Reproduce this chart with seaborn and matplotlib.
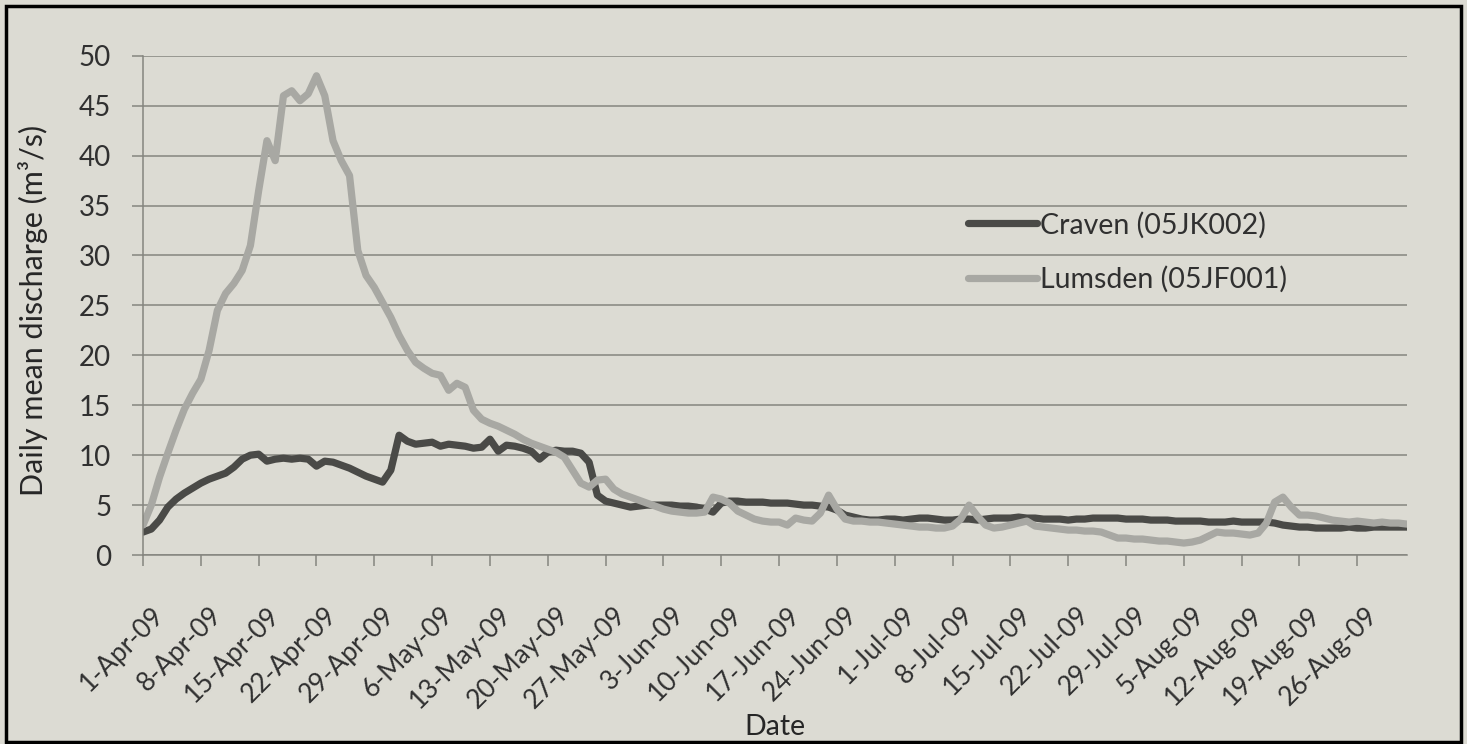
import pandas as pd
import matplotlib
matplotlib.use("Agg")
import matplotlib.pyplot as plt
import matplotlib.dates as mdates
import matplotlib.transforms as mtransforms
from matplotlib.patches import Rectangle
import seaborn as sns

# ── Data (daily mean discharge, m3/s) ─────────────────────────────────────
START_DATE = "2009-04-01"
STATIONS = ["Craven (05JK002)", "Lumsden (05JF001)"]

craven = [
    2.3, 2.6, 3.5, 4.8, 5.6, 6.2, 6.7, 7.2, 7.6, 7.9,
    8.2, 8.8, 9.6, 10.0, 10.1, 9.4, 9.6, 9.7, 9.6, 9.7,
    9.6, 8.9, 9.4, 9.3, 9.0, 8.7, 8.3, 7.9, 7.6, 7.3,
    8.5, 12.0, 11.4, 11.1, 11.2, 11.3, 10.9, 11.1, 11.0, 10.9,
    10.7, 10.8, 11.6, 10.4, 11.0, 10.9, 10.7, 10.4, 9.6, 10.3,
    10.5, 10.4, 10.4, 10.2, 9.3, 6.0, 5.4, 5.2, 5.0, 4.8,
    4.9, 5.0, 5.0, 5.0, 5.0, 4.9, 4.9, 4.8, 4.6, 4.3,
    5.2, 5.4, 5.4, 5.3, 5.3, 5.3, 5.2, 5.2, 5.2, 5.1,
    5.0, 5.0, 4.9, 4.8, 4.5, 4.0, 3.8, 3.6, 3.5, 3.5,
    3.6, 3.6, 3.5, 3.6, 3.7, 3.7, 3.6, 3.5, 3.5, 3.6,
    3.6, 3.5, 3.6, 3.7, 3.7, 3.7, 3.8, 3.7, 3.7, 3.6,
    3.6, 3.6, 3.5, 3.6, 3.6, 3.7, 3.7, 3.7, 3.7, 3.6,
    3.6, 3.6, 3.5, 3.5, 3.5, 3.4, 3.4, 3.4, 3.4, 3.3,
    3.3, 3.3, 3.4, 3.3, 3.3, 3.3, 3.3, 3.2, 3.0, 2.9,
    2.8, 2.8, 2.7, 2.7, 2.7, 2.7, 2.8, 2.7, 2.7, 2.8,
    2.8, 2.8, 2.8, 2.8,
]

lumsden = [
    3.0, 5.0, 7.8, 10.2, 12.5, 14.6, 16.2, 17.6, 20.5, 24.5,
    26.2, 27.2, 28.5, 31.0, 36.5, 41.5, 39.5, 46.0, 46.5, 45.5,
    46.2, 48.0, 46.0, 41.5, 39.5, 38.0, 30.5, 28.0, 26.8, 25.3,
    23.8, 22.0, 20.5, 19.3, 18.7, 18.2, 18.0, 16.5, 17.2, 16.8,
    14.5, 13.6, 13.2, 12.9, 12.5, 12.1, 11.6, 11.2, 10.9, 10.6,
    10.3, 9.8, 8.5, 7.2, 6.8, 7.5, 7.6, 6.6, 6.1, 5.8,
    5.5, 5.2, 4.9, 4.6, 4.4, 4.3, 4.2, 4.2, 4.3, 5.8,
    5.6, 5.2, 4.4, 4.0, 3.6, 3.4, 3.3, 3.3, 3.0, 3.7,
    3.5, 3.4, 4.2, 6.0, 4.6, 3.6, 3.4, 3.4, 3.3, 3.3,
    3.2, 3.1, 3.0, 2.9, 2.8, 2.8, 2.7, 2.7, 2.9, 3.6,
    5.0, 3.9, 3.0, 2.7, 2.8, 3.0, 3.2, 3.4, 2.9, 2.8,
    2.7, 2.6, 2.5, 2.5, 2.4, 2.4, 2.3, 2.0, 1.7, 1.7,
    1.6, 1.6, 1.5, 1.4, 1.4, 1.3, 1.2, 1.3, 1.5, 1.9,
    2.3, 2.2, 2.2, 2.1, 2.0, 2.2, 3.2, 5.3, 5.8, 4.8,
    4.0, 4.0, 3.9, 3.7, 3.5, 3.4, 3.3, 3.4, 3.3, 3.2,
    3.3, 3.2, 3.2, 3.1,
]

Y_TICKS = [0, 5, 10, 15, 20, 25, 30, 35, 40, 45, 50]
N_XTICKS = 22          # weekly ticks, 1-Apr .. 26-Aug

# ── Style ──────────────────────────────────────────────────────────────────
BG       = "#dcdbd3"
GRID     = "#85857f"
TXT      = "#303030"
COLORS   = {STATIONS[0]: "#4a4a47", STATIONS[1]: "#a8a8a3"}

sns.set_theme(style="white")
plt.rcParams["font.family"] = ["Lato", "DejaVu Sans"]
plt.rcParams["text.color"] = TXT

dates = pd.date_range(START_DATE, periods=len(craven), freq="D")
df = pd.concat([
    pd.DataFrame({"date": dates, "discharge": craven, "station": STATIONS[0]}),
    pd.DataFrame({"date": dates, "discharge": lumsden, "station": STATIONS[1]}),
])

fig = plt.figure(figsize=(14.67, 7.44), dpi=100, facecolor=BG)
ax = fig.add_axes([0.0975, 0.254, 0.8615, 0.671])
ax.set_facecolor(BG)

sns.lineplot(data=df, x="date", y="discharge", hue="station",
             hue_order=STATIONS, palette=COLORS, linewidth=5.2,
             ax=ax, legend=True)
for ln in ax.get_lines():
    ln.set_solid_joinstyle("round")
    ln.set_solid_capstyle("round")

# ── Axes ───────────────────────────────────────────────────────────────────
ax.set_ylim(0, 50)
ax.set_yticks(Y_TICKS)
ax.set_xlim(dates[0], dates[-1])
ax.set_xticks(pd.date_range(START_DATE, periods=N_XTICKS, freq="7D"))
ax.xaxis.set_major_formatter(mdates.DateFormatter("%-d-%b-%y"))

ax.yaxis.grid(True, color=GRID, linewidth=1.1)
ax.xaxis.grid(False)
ax.set_axisbelow(True)
for s in ["top", "right"]:
    ax.spines[s].set_visible(False)
for s in ["left", "bottom"]:
    ax.spines[s].set_color(GRID)
    ax.spines[s].set_linewidth(1.1)

ax.tick_params(axis="y", left=True, length=8, width=1.1, color=GRID,
               labelsize=20, pad=15, labelcolor=TXT)
ax.tick_params(axis="x", bottom=True, length=8, width=1.1, color=GRID,
               labelsize=19, pad=26, labelcolor=TXT)
shift = mtransforms.ScaledTranslation(0.08, 0, fig.dpi_scale_trans)
for lab in ax.get_xticklabels():
    lab.set_rotation(45)
    lab.set_ha("right")
    lab.set_va("top")
    lab.set_rotation_mode("anchor")
    lab.set_transform(lab.get_transform() + shift)

ax.set_xlabel("Date", fontsize=20.5)
ax.xaxis.set_label_coords(0.5, -0.319)
ax.set_ylabel("Daily mean discharge (m³/s)", fontsize=22)
ax.yaxis.set_label_coords(-0.075, 0.49)

handles, labels = ax.get_legend_handles_labels()
ax.legend(handles, labels, loc="upper left", bbox_to_anchor=(0.6525, 0.688),
          frameon=False, fontsize=20.5, handlelength=2.45, handletextpad=0.1,
          labelspacing=0.96, borderpad=0, borderaxespad=0)

# outer frame of the scanned figure
fig.patches.append(Rectangle((0.004, 0.003), 0.992, 0.989,
                             transform=fig.transFigure, fill=False,
                             edgecolor="black", linewidth=2.5))

fig.savefig("out.png", dpi=100, facecolor=BG)
